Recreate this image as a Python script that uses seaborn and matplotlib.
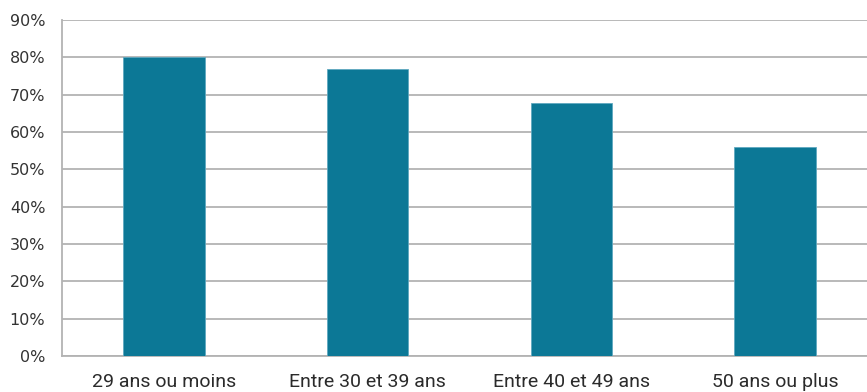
import matplotlib
matplotlib.use("Agg")
import matplotlib.pyplot as plt
import seaborn as sns
import pandas as pd
from matplotlib.ticker import FuncFormatter, MultipleLocator

categories = ["29 ans ou moins", "Entre 30 et 39 ans", "Entre 40 et 49 ans", "50 ans ou plus"]
values = [0.80, 0.77, 0.677, 0.56]

df = pd.DataFrame({"cat": categories, "val": values})

sns.set_style("white")
fig = plt.figure(figsize=(8.67, 3.92), dpi=100)
ax = fig.add_axes([62/867, 36/392, 815/867, (356-20)/392])

sns.barplot(data=df, x="cat", y="val", color="#0c7896", width=0.40, ax=ax,
            saturation=1, edgecolor="#5fa8c0", linewidth=0.6, zorder=3)

ax.set_ylim(0, 0.9)
ax.set_xlim(-0.5, 3.5)
ax.yaxis.set_major_locator(MultipleLocator(0.1))
ax.yaxis.set_major_formatter(FuncFormatter(lambda v, p: f"{round(v*100)}%"))
ax.grid(axis="y", color="#b3b3b3", linewidth=1.3, zorder=0)
ax.set_axisbelow(True)
ax.set_xlabel("")
ax.set_ylabel("")
for s in ["top", "right"]:
    ax.spines[s].set_visible(False)
for s in ["left", "bottom"]:
    ax.spines[s].set_color("#b3b3b3")
    ax.spines[s].set_linewidth(1.3)
ax.tick_params(axis="y", length=0, pad=12, labelsize=11.5, labelcolor="#333333")
ax.tick_params(axis="x", length=0, pad=12, labelcolor="#2b2b2b")
for lab in ax.get_xticklabels():
    lab.set_family("Roboto")
    lab.set_fontsize(14)
for lab in ax.get_yticklabels():
    lab.set_family("DejaVu Sans")

fig.savefig("out.png", dpi=100)
